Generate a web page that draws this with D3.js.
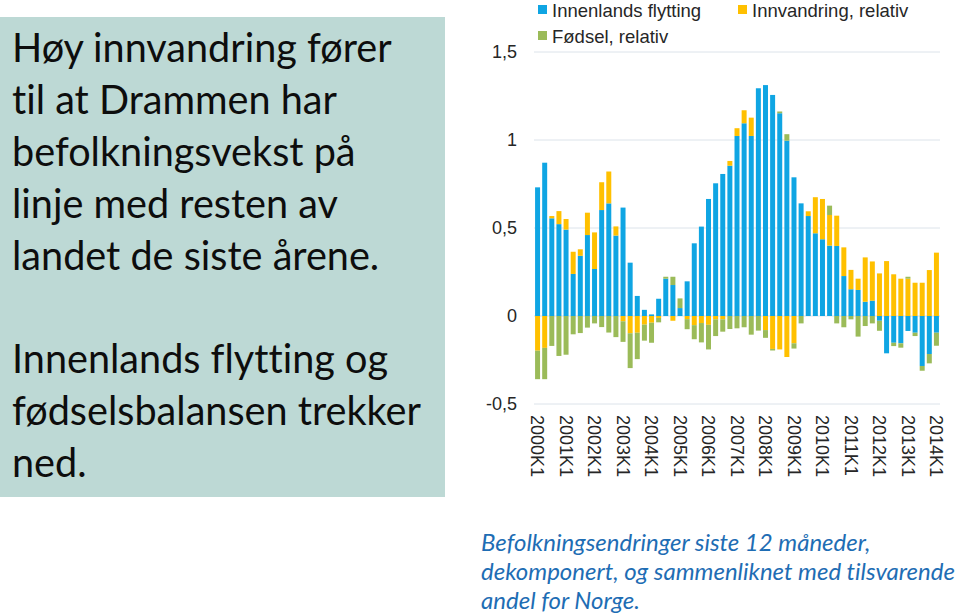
<!DOCTYPE html>
<html>
<head>
<meta charset="utf-8">
<script src="https://cdn.jsdelivr.net/npm/d3@7"></script>
<style>
  html, body { margin: 0; padding: 0; background: #fff; }
  svg { display: block; }
  text { font-variant-ligatures: none; font-feature-settings: "liga" 0, "clig" 0; }
</style>
</head>
<body>
<svg id="chart" width="960" height="615"></svg>
<script>
// ---------- DATA ----------
const years = [2000,2001,2002,2003,2004,2005,2006,2007,2008,2009,2010,2011,2012,2013,2014];
const quarterNames = ["K1","K2","K3","K4"];
const seriesNames = ["Innenlands flytting", "Innvandring, relativ", "Fødsel, relativ"];

const innenlands = [0.731,0.871,0.555,0.522,0.491,0.239,0.342,0.460,0.267,0.602,
  0.640,0.457,0.616,0.303,0.114,0.035,0.009,0.098,0.212,0.176,
  0.045,0.197,0.413,0.508,0.665,0.754,0.807,0.854,1.023,1.095,
  1.023,1.294,1.312,1.256,1.152,0.996,0.788,0.640,0.568,0.470,
  0.436,0.400,0.398,0.227,0.152,0.148,0.081,0.087,-0.027,-0.212,
  -0.152,-0.155,-0.085,-0.095,-0.284,-0.216,-0.095];
const innvandring = [-0.197,-0.181,0.013,0.074,0.060,0.126,0.037,0.127,0.208,0.158,
  0.181,0.052,-0.030,-0.098,-0.095,-0.049,-0.038,-0.011,0.000,-0.027,
  0.000,-0.018,-0.052,-0.040,-0.050,-0.019,-0.019,0.027,0.044,0.074,
  0.104,0.000,-0.080,-0.187,-0.190,-0.233,-0.155,0.000,0.027,0.205,
  0.229,0.174,0.172,0.163,0.110,0.064,0.252,0.223,0.242,0.312,
  0.237,0.212,0.212,0.189,0.189,0.261,0.360];
const fodsel = [-0.162,-0.178,-0.170,-0.227,-0.220,-0.104,-0.097,-0.066,-0.042,-0.063,
  -0.094,-0.120,-0.117,-0.198,-0.150,-0.091,-0.114,-0.025,0.011,0.047,
  0.055,-0.057,-0.080,-0.110,-0.140,-0.095,-0.070,-0.074,-0.070,-0.064,
  -0.106,-0.083,-0.044,-0.009,0.010,0.037,-0.030,-0.042,0.000,0.000,
  0.000,0.053,-0.042,-0.064,-0.019,-0.117,-0.057,-0.042,-0.057,0.000,
  -0.019,-0.025,0.011,-0.019,-0.027,-0.053,-0.074];

const yTicks = [-0.5, 0, 0.5, 1, 1.5];
const yTickLabels = ["-0,5", "0", "0,5", "1", "1,5"];

const leftParagraph1 = ["Høy innvandring fører", "til at Drammen har", "befolkningsvekst på", "linje med resten av", "landet de siste årene."];
const leftParagraph2 = ["Innenlands flytting og", "fødselsbalansen trekker", "ned."];
const captionLines = ["Befolkningsendringer siste 12 måneder,", "dekomponert, og sammenliknet med tilsvarende", "andel for Norge."];

// categories
const categories = [];
years.forEach(y => quarterNames.forEach(q => { if (categories.length < innenlands.length) categories.push(y + q); }));

const colors = ["#0FA5E3", "#FFC000", "#9BBB59"];
const keys = ["innenlands", "innvandring", "fodsel"];

const table = categories.map((c, i) => ({
  cat: c, innenlands: innenlands[i], innvandring: innvandring[i], fodsel: fodsel[i]
}));

// ---------- DRAW ----------
const svg = d3.select("#chart");

// left panel
svg.append("rect").attr("x", 0).attr("y", 17).attr("width", 445).attr("height", 480).attr("fill", "#BDD9D5");

function fitText(sel, targetWidth, startSize) {
  sel.attr("font-size", startSize);
  const w = d3.max(sel.nodes(), n => n.getComputedTextLength());
  const size = startSize * targetWidth / w;
  sel.attr("font-size", size);
  return size;
}

const leftG = svg.append("g").attr("font-family", "Lato, 'Open Sans', sans-serif").attr("fill", "#0d0d0d");
leftG.selectAll("text.p1").data(leftParagraph1).join("text")
  .attr("class", "p1").attr("x", 12).attr("y", (d, i) => 62 + i * 52).text(d => d);
leftG.selectAll("text.p2").data(leftParagraph2).join("text")
  .attr("class", "p2").attr("x", 12).attr("y", (d, i) => 373 + i * 52).text(d => d);
fitText(leftG.selectAll("text"), 409, 40);

// caption
const capG = svg.append("g").attr("font-family", "Lato, 'Open Sans', sans-serif").attr("font-style", "italic").attr("fill", "#1E6DB4");
const cap = capG.selectAll("text").data(captionLines).join("text")
  .attr("x", 481).attr("y", (d, i) => 551 + i * 29).text(d => d);
fitText(cap, 474, 22);

// scales
const x = d3.scaleBand().domain(categories).range([534, 940]).paddingInner(0.3).paddingOuter(0.15);
const y = d3.scaleLinear().domain([-0.5, 1.5]).range([404, 52]);

// gridlines
svg.append("g").selectAll("line").data(yTicks).join("line")
  .attr("x1", 534).attr("x2", 940)
  .attr("y1", d => y(d)).attr("y2", d => y(d))
  .attr("stroke", "#DCE3EA").attr("stroke-width", 1);

// y axis labels
const yAxis = d3.axisLeft(y).tickValues(yTicks).tickFormat((d, i) => yTickLabels[i]).tickSize(0).tickPadding(0);
const yg = svg.append("g").attr("transform", "translate(517,0)").call(yAxis);
yg.select(".domain").remove();
yg.selectAll("text").attr("font-family", "Arial, 'Liberation Sans', sans-serif").attr("font-size", 18).attr("fill", "#262626");

// bars
const stack = d3.stack().keys(keys).offset(d3.stackOffsetDiverging);
const layers = stack(table);
svg.append("g").selectAll("g").data(layers).join("g")
  .attr("fill", (d, i) => colors[i])
  .selectAll("rect").data(d => d).join("rect")
  .attr("x", d => x(d.data.cat))
  .attr("width", x.bandwidth())
  .attr("y", d => y(Math.max(d[0], d[1])))
  .attr("height", d => Math.abs(y(d[0]) - y(d[1])));

// x axis labels
const xLabels = categories.filter(c => c.endsWith("K1"));
const xAxis = d3.axisBottom(x).tickValues(xLabels).tickSize(0).tickPadding(0);
const xg = svg.append("g").attr("transform", "translate(0,415)").call(xAxis);
xg.select(".domain").remove();
xg.selectAll("text")
  .attr("font-family", "Arial, 'Liberation Sans', sans-serif").attr("font-size", 18).attr("fill", "#262626")
  .attr("text-anchor", "start")
  .attr("transform", "rotate(90)")
  .attr("x", 0).attr("y", 0).attr("dy", "0.35em");

// legend
const legendItems = [
  {name: seriesNames[0], color: colors[0], x: 538, y: 5},
  {name: seriesNames[1], color: colors[1], x: 738, y: 5},
  {name: seriesNames[2], color: colors[2], x: 538, y: 31}
];
const lg = svg.append("g").selectAll("g").data(legendItems).join("g")
  .attr("transform", d => `translate(${d.x},${d.y})`);
lg.append("rect").attr("width", 9).attr("height", 9).attr("fill", d => d.color);
lg.append("text").attr("x", 14).attr("y", 12)
  .attr("font-family", "Arial, 'Liberation Sans', sans-serif").attr("font-size", 18.5).attr("fill", "#262626")
  .text(d => d.name);
</script>
</body>
</html>
